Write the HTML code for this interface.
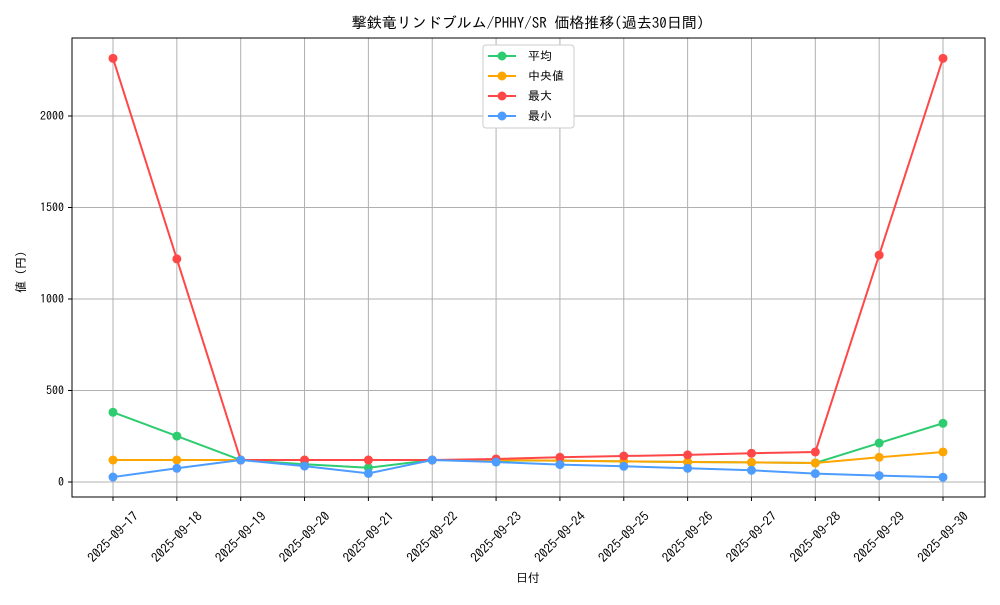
<!DOCTYPE html>
<html><head><meta charset="utf-8"><style>
body{margin:0;background:#fff;}
svg text{font-family:"IPAGothic","Noto Sans CJK JP",sans-serif;fill:#000;}
</style></head><body>
<svg id="c" width="1000" height="600"></svg>
<script>
const categories=["2025-09-17","2025-09-18","2025-09-19","2025-09-20","2025-09-21","2025-09-22","2025-09-23","2025-09-24","2025-09-25","2025-09-26","2025-09-27","2025-09-28","2025-09-29","2025-09-30"];
const avgValues=[381,251,120,97,78,120,118,117,113,109,107,104,213,321];
const medianValues=[120,120,120,120,120,120,120,117,113,109,107,104,135,164];
const maxValues=[2315,1219,120,120,120,120,126,135,142,148,157,164,1240,2315];
const minValues=[27,75,120,87,47,120,109,95,86,75,64,46,35,26];
const yTicks=[0,500,1000,1500,2000];
const seriesNames=["平均","中央値","最大","最小"];
const NS="http://www.w3.org/2000/svg";
const svg=document.getElementById('c');
function mk(t,a,p){const e=document.createElementNS(NS,t);for(const k in a)e.setAttribute(k,a[k]);(p||svg).appendChild(e);return e;}
const L=72,R=985,T=38,B=497;
const x=i=>113+i*(943-113)/(categories.length-1);
const y=v=>482-v*0.183;
yTicks.forEach(v=>{const g=mk('line',{x1:L,x2:R,y1:y(v),y2:y(v),stroke:'#b0b0b0','stroke-width':1});


mk('line',{x1:L-4,x2:L,y1:y(v),y2:y(v),stroke:'#000'});
const t=mk('text',{x:L-8,y:y(v)+4,'text-anchor':'end','font-size':12});t.textContent=v;

});
categories.forEach((c,i)=>{const g=mk('line',{x1:x(i),x2:x(i),y1:T,y2:B,stroke:'#b0b0b0','stroke-width':1});


mk('line',{x1:x(i),x2:x(i),y1:B,y2:B+4,stroke:'#000'});
const ax=x(i),ay=B+40;
const t=mk('text',{x:ax,y:ay+4.5,'text-anchor':'middle','font-size':13,transform:`rotate(-45 ${ax} ${ay})`});t.textContent=c;

});
const fr=mk('rect',{x:L,y:T,width:R-L,height:B-T,fill:'none',stroke:'#000','stroke-width':1});


const series=[[avgValues,'#2ecc71'],[medianValues,'#ffa500'],[maxValues,'#ff4747'],[minValues,'#4d9cff']];
series.forEach(([d,col],si)=>{
const g=mk('g',{});


mk('polyline',{points:d.map((v,i)=>x(i)+','+y(v)).join(' '),fill:'none',stroke:col,'stroke-width':2},g);
d.forEach((v,i)=>{const p=mk('circle',{cx:x(i),cy:y(v),r:4.5,fill:col},g);

});
});
const lg=mk('g',{});


mk('rect',{x:483,y:45,width:91,height:83,fill:'#fff',stroke:'#ccc',rx:3},lg);
series.forEach(([d,col],i)=>{const yy=56+i*20;
mk('line',{x1:488,x2:516,y1:yy,y2:yy,stroke:col,'stroke-width':2},lg);
mk('circle',{cx:502,cy:yy,r:4.5,fill:col},lg);
const t=mk('text',{x:528,y:yy+4,'font-size':12},lg);t.textContent=seriesNames[i];

});
const ti=mk('text',{x:528,y:28,'text-anchor':'middle','font-size':15});ti.textContent='撃鉄竜リンドブルム/PHHY/SR 価格推移(過去30日間)';


const xt=mk('text',{x:528,y:582,'text-anchor':'middle','font-size':12});xt.textContent='日付';


const yt=mk('text',{x:25,y:272,'text-anchor':'middle','font-size':12,transform:'rotate(-90 25 272)'});yt.textContent='値 (円)';


</script></body></html>
